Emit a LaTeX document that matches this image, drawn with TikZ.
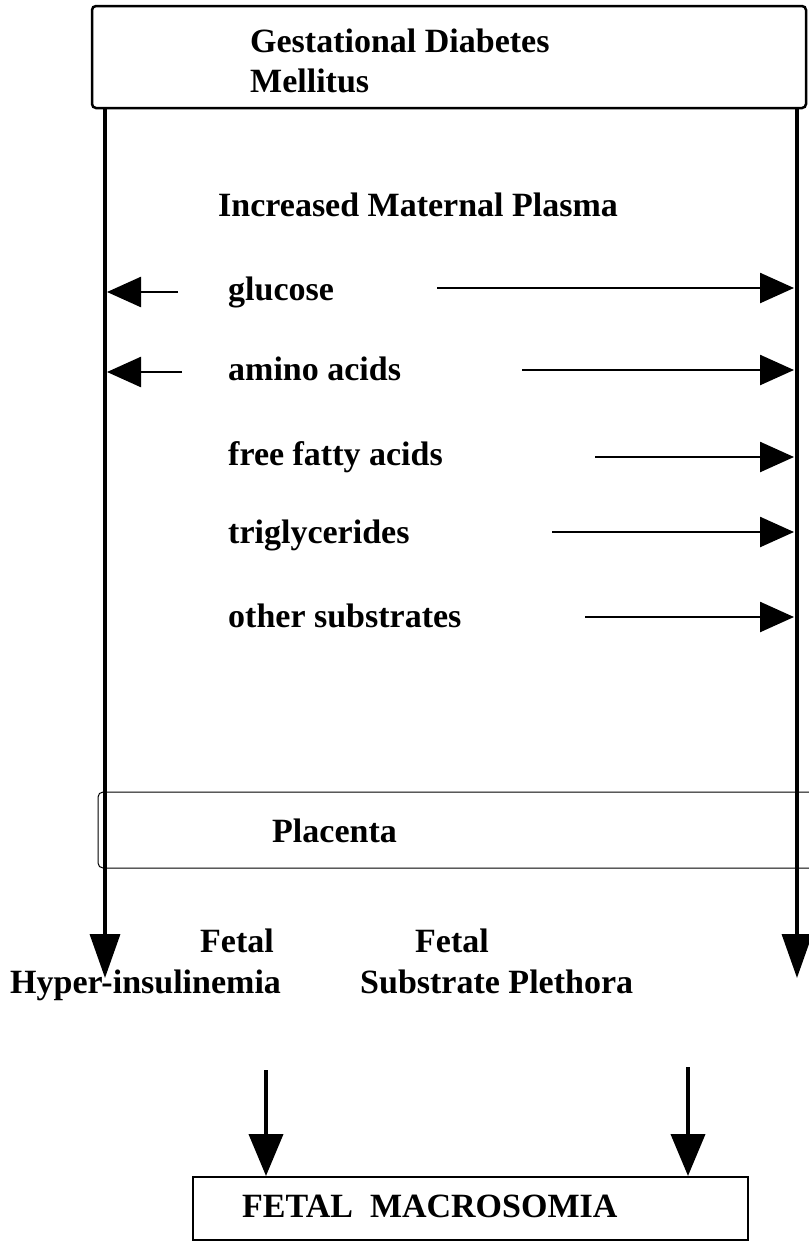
\documentclass[tikz,border=0pt]{standalone}
\usepackage{fontspec}
\setmainfont{Liberation Serif}
\usetikzlibrary{arrows.meta}
\tikzset{
  x=1pt, y=-1pt,
  lbl/.style={font=\fontsize{34}{41}\selectfont\bfseries, inner sep=0pt, anchor=base west},
  vline/.style={line width=3.5pt, -{Triangle[length=44pt,width=30pt]}},
  harr/.style={line width=2.5pt, -{Triangle[length=34pt,width=30pt]}},
  darr/.style={line width=4pt, -{Triangle[length=42pt,width=34pt]}},
  frame/.style={draw, line width=2.5pt},
}
\begin{document}
\begin{tikzpicture}
\useasboundingbox (0,0) rectangle (809,1243);
% top box
\draw[frame, rounded corners=4pt] (92,6) rectangle (806,108);
\node[lbl] (gdm1) at (250,52) {Gestational Diabetes};
\node[lbl] (gdm2) at (250,92) {Mellitus};
\coordinate (lt) at (105,108);
\coordinate (rt) at (797,108);
\coordinate (lb) at (105,978);
\coordinate (rb) at (797,978);
\draw[vline] (lt) -- (lb);
\draw[vline] (rt) -- (rb);
\node[lbl] (imp) at (218,216) {Increased Maternal Plasma};
% rows
\node[lbl] (glu) at (228,300) {glucose};
\node[lbl] (ami) at (228,380) {amino acids};
\node[lbl] (ffa) at (228,465) {free fatty acids};
\node[lbl] (tri) at (228,543) {triglycerides};
\node[lbl] (oth) at (228,627) {other substrates};
% arrows
\coordinate (gl0) at (178,292); \coordinate (gl1) at (107,292);
\coordinate (gr0) at (437,288); \coordinate (gr1) at (794,288);
\coordinate (al0) at (182,372); \coordinate (al1) at (107,372);
\coordinate (ar0) at (522,370); \coordinate (ar1) at (794,370);
\coordinate (fr0) at (595,457); \coordinate (fr1) at (794,457);
\coordinate (tr0) at (552,532); \coordinate (tr1) at (794,532);
\coordinate (or0) at (585,617); \coordinate (or1) at (794,617);
\draw[harr] (gl0) -- (gl1);
\draw[harr] (gr0) -- (gr1);
\draw[harr] (al0) -- (al1);
\draw[harr] (ar0) -- (ar1);
\draw[harr] (fr0) -- (fr1);
\draw[harr] (tr0) -- (tr1);
\draw[harr] (or0) -- (or1);
% placenta
\draw[line width=1pt, rounded corners=5pt] (809,792) -- (98,792) -- (98,868) -- (809,868);
\node[lbl] (pla) at (272,842) {Placenta};
% fetal labels
\node[lbl] (f1) at (200,952) {Fetal};
\node[lbl] (hyp) at (10,993) {Hyper-insulinemia};
\node[lbl] (f2) at (415,952) {Fetal};
\node[lbl] (sub) at (360,993) {Substrate Plethora};
% down arrows and macrosomia
\node[draw, line width=2pt, minimum width=555pt, minimum height=63pt, inner sep=0pt] (mac) at (470.5,1208.5) {};
\node[lbl] (mact) at (242,1217) {FETAL\ \ MACROSOMIA};
\coordinate (d1) at (266,1070);
\coordinate (d2) at (688,1067);
\draw[darr] (d1) -- (d1 |- mac.north);
\draw[darr] (d2) -- (d2 |- mac.north);
\end{tikzpicture}
\end{document}
